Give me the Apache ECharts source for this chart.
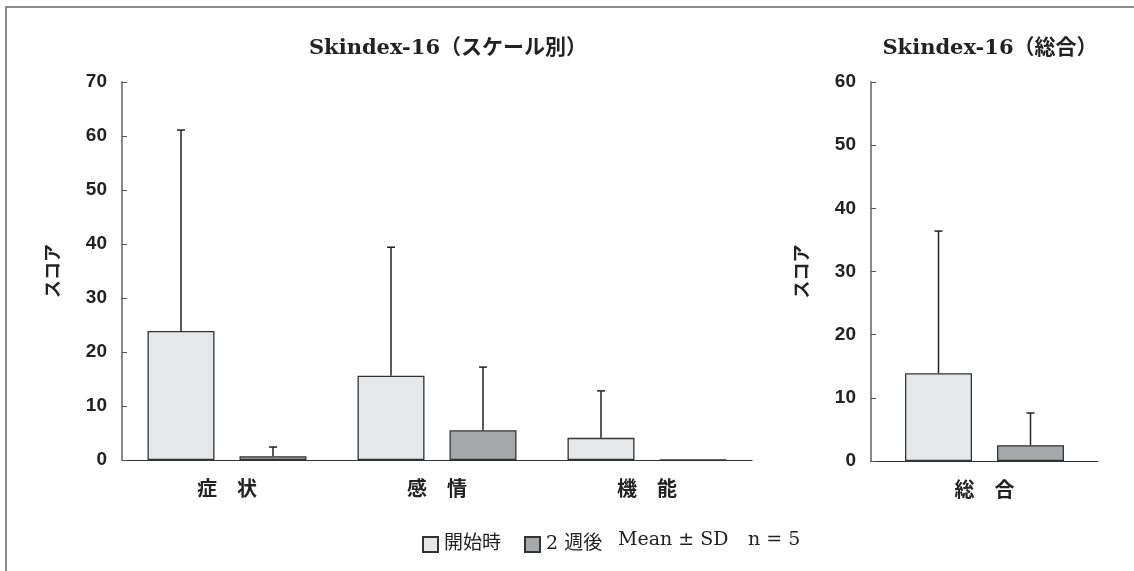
<!DOCTYPE html>
<html>
<head>
<meta charset="utf-8">
<script src="https://cdn.jsdelivr.net/npm/echarts@6/dist/echarts.min.js"></script>
<style>
  html, body { margin: 0; padding: 0; background: #fff; }
  #chart { width: 1134px; height: 571px; }
</style>
</head>
<body>
<div id="chart"></div>
<script>
// スケール別
const scaleCats = ['症　状', '感　情', '機　能'];
const scaleStart = [23.9, 15.6, 4.1];
const scaleStartSd = [37.2, 23.8, 8.7];
const scaleWeek2 = [0.7, 5.5, 0];
const scaleWeek2Sd = [1.7, 11.7, 0];

// 総合
const totalCats = ['総　合'];
const totalStart = [13.9];
const totalStartSd = [22.5];
const totalWeek2 = [2.5];
const totalWeek2Sd = [5.1];

const BAR_W = 67;
const GAP = 25;
const OFFSET = (BAR_W + GAP) / 2;

const sansFont = '"Liberation Sans", "Noto Sans CJK JP", sans-serif';
const serifFont = '"DejaVu Serif", "Noto Sans CJK JP", serif';

const chart = echarts.init(document.getElementById('chart'));

// エラーバー（上側のみ）
function errRender(dx) {
  return function (params, api) {
    const sd = api.value(2);
    if (!sd) return;
    const mean = api.value(1);
    const base = api.coord([api.value(0), mean]);
    const top = api.coord([api.value(0), mean + sd]);
    const x = base[0] + dx;
    const style = { stroke: '#222', lineWidth: 1.5 };
    return {
      type: 'group',
      children: [
        { type: 'line', shape: { x1: x, y1: base[1], x2: x, y2: top[1] }, style: style },
        { type: 'line', shape: { x1: x - 4, y1: top[1], x2: x + 4, y2: top[1] }, style: style }
      ]
    };
  };
}

const errData = (means, sds) => means.map((m, i) => [i, m, sds[i]]);

const yAxisBase = {
  type: 'value',
  min: 0,
  interval: 10,
  name: 'スコア',
  nameLocation: 'middle',
  nameGap: 59,
  nameTextStyle: { fontFamily: sansFont, fontWeight: 'bold', fontSize: 18, color: '#222' },
  axisLine: { show: true, lineStyle: { color: '#888', width: 2 } },
  axisTick: { show: true, inside: true, length: 5, lineStyle: { color: '#555' } },
  axisLabel: { fontFamily: sansFont, fontWeight: 'bold', fontSize: 19, color: '#222', margin: 15 },
  splitLine: { show: false }
};

const xAxisBase = {
  type: 'category',
  axisLine: { lineStyle: { color: '#333', width: 1 } },
  axisTick: { show: false },
  axisLabel: { fontFamily: sansFont, fontWeight: 'bold', fontSize: 20, color: '#222', margin: 20 }
};

const startStyle = { color: '#e6e7e8', borderColor: '#333', borderWidth: 1.3 };
const week2Style = { color: '#a7a8aa', borderColor: '#333', borderWidth: 1.3 };

const option = {
  animation: false,
  title: [
    {
      text: 'Skindex-16（スケール別）',
      left: 443, top: 33, textAlign: 'center',
      textStyle: { fontFamily: serifFont, fontWeight: 'bold', fontSize: 21, color: '#222' }
    },
    {
      text: 'Skindex-16（総合）',
      left: 985, top: 33, textAlign: 'center',
      textStyle: { fontFamily: serifFont, fontWeight: 'bold', fontSize: 21, color: '#222' }
    }
  ],
  legend: {
    data: ['開始時', '2 週後'],
    left: 417, top: 530,
    icon: 'rect',
    itemWidth: 15, itemHeight: 15,
    itemGap: 23,
    textStyle: { fontFamily: serifFont, fontSize: 19, color: '#222', padding: [0, 0, 0, 1] }
  },
  graphic: [
    {
      type: 'rect', silent: true,
      shape: { x: 6, y: 7, width: 1300, height: 800 },
      style: { fill: 'none', stroke: '#666', lineWidth: 1.5 }
    },
    {
      type: 'text', left: 618, top: 531,
      style: { text: 'Mean ± SD', font: '19px ' + serifFont, fill: '#222' }
    },
    {
      type: 'text', left: 748, top: 531,
      style: { text: 'n = 5', font: '19px ' + serifFont, fill: '#222' }
    }
  ],
  grid: [
    { left: 122, right: 382, top: 82, bottom: 111 },
    { left: 871, right: 36, top: 82, bottom: 110 }
  ],
  xAxis: [
    Object.assign({}, xAxisBase, { gridIndex: 0, data: scaleCats }),
    Object.assign({}, xAxisBase, { gridIndex: 1, data: totalCats })
  ],
  yAxis: [
    Object.assign({}, yAxisBase, { gridIndex: 0, max: 70 }),
    Object.assign({}, yAxisBase, { gridIndex: 1, max: 60 })
  ],
  series: [
    {
      name: '開始時', type: 'bar', xAxisIndex: 0, yAxisIndex: 0,
      barWidth: BAR_W, barGap: (GAP / BAR_W * 100) + '%',
      itemStyle: startStyle, data: scaleStart
    },
    {
      name: '2 週後', type: 'bar', xAxisIndex: 0, yAxisIndex: 0,
      barWidth: BAR_W, barGap: (GAP / BAR_W * 100) + '%',
      itemStyle: week2Style, data: scaleWeek2
    },
    {
      name: '開始時', type: 'bar', xAxisIndex: 1, yAxisIndex: 1,
      barWidth: BAR_W, barGap: (GAP / BAR_W * 100) + '%',
      itemStyle: startStyle, data: totalStart
    },
    {
      name: '2 週後', type: 'bar', xAxisIndex: 1, yAxisIndex: 1,
      barWidth: BAR_W, barGap: (GAP / BAR_W * 100) + '%',
      itemStyle: week2Style, data: totalWeek2
    },
    {
      type: 'custom', xAxisIndex: 0, yAxisIndex: 0, z: 3,
      renderItem: errRender(-OFFSET), encode: { x: 0, y: 1 },
      data: errData(scaleStart, scaleStartSd)
    },
    {
      type: 'custom', xAxisIndex: 0, yAxisIndex: 0, z: 3,
      renderItem: errRender(OFFSET), encode: { x: 0, y: 1 },
      data: errData(scaleWeek2, scaleWeek2Sd)
    },
    {
      type: 'custom', xAxisIndex: 1, yAxisIndex: 1, z: 3,
      renderItem: errRender(-OFFSET), encode: { x: 0, y: 1 },
      data: errData(totalStart, totalStartSd)
    },
    {
      type: 'custom', xAxisIndex: 1, yAxisIndex: 1, z: 3,
      renderItem: errRender(OFFSET), encode: { x: 0, y: 1 },
      data: errData(totalWeek2, totalWeek2Sd)
    }
  ]
};

chart.setOption(option);
</script>
</body>
</html>
